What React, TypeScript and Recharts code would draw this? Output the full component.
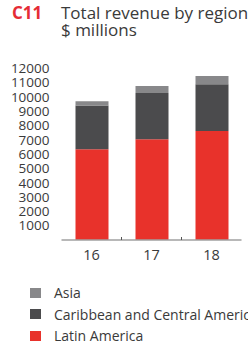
import React from "react";
import { BarChart, Bar, XAxis, YAxis, Legend } from "recharts";

// Total revenue by region, $ millions
const years = ["16", "17", "18"];
const latinAmerica = [6350, 7050, 7620];
const caribbeanCentral = [3050, 3230, 3280];
const asia = [300, 490, 570];
const yTicks = [1000, 2000, 3000, 4000, 5000, 6000, 7000, 8000, 9000, 10000, 11000, 12000];
const legendOrder = ["Asia", "Caribbean and Central America", "Latin America"];

const RED = "#e8322b";
const DARK = "#4b4b4d";
const GREY = "#88888a";
const TEXT = "#3a3a3a";
const FONT = "'Open Sans', sans-serif";

const W = 248;
const H = 341;
const CATEGORY_W = 60;

const data = years.map((year, i) => ({
  year,
  latin: latinAmerica[i],
  caribbean: caribbeanCentral[i],
  asia: asia[i],
}));

/** Label tahun + garis kecil di antara kategori. */
function YearTick(props: any) {
  const { x, y, payload, index } = props;
  const axisY = y - 10;
  return (
    <g>
      <text
        x={x}
        y={y}
        dy="0.71em"
        textAnchor="middle"
        fill={TEXT}
        fontSize={14.5}
        fontFamily={FONT}
      >
        {payload.value}
      </text>
      {index < years.length - 1 && (
        <line
          x1={x + CATEGORY_W / 2}
          x2={x + CATEGORY_W / 2}
          y1={axisY - 3}
          y2={axisY}
          stroke="#555"
          strokeWidth={1}
        />
      )}
    </g>
  );
}

function RegionLegend(props: any) {
  const items = [...(props.payload ?? [])].sort(
    (a: any, b: any) => legendOrder.indexOf(a.value) - legendOrder.indexOf(b.value)
  );
  return (
    <div style={{ fontFamily: FONT, fontSize: 14, color: TEXT }}>
      {items.map((item: any) => (
        <div
          key={item.value}
          style={{ display: "flex", alignItems: "center", height: 21.6, whiteSpace: "nowrap" }}
        >
          <span
            style={{
              display: "inline-block",
              flexShrink: 0,
              width: 10.5,
              height: 10,
              background: item.color,
              marginRight: 13.5,
            }}
          />
          {item.value}
        </div>
      ))}
    </div>
  );
}

export default function App() {
  return (
    <div
      style={{
        position: "absolute",
        left: 0,
        top: 0,
        width: W,
        height: H,
        overflow: "hidden",
        background: "#fff",
        fontFamily: FONT,
      }}
    >
      <div
        style={{
          position: "absolute",
          left: 12,
          top: 4,
          fontSize: 17,
          fontWeight: 700,
          color: "#e52c36",
          lineHeight: "17px",
        }}
      >
        C11
      </div>
      <div
        style={{
          position: "absolute",
          left: 61,
          top: 4,
          fontSize: 17,
          color: TEXT,
          lineHeight: "17px",
          whiteSpace: "nowrap",
        }}
      >
        Total revenue by region
        <br />$ millions
      </div>
      <BarChart
        width={W}
        height={H}
        data={data}
        margin={{ top: 68.4, right: 6.5, left: 0, bottom: 71 }}
        barSize={33}
      >
        <XAxis
          dataKey="year"
          height={30}
          tickLine={false}
          tickSize={0}
          tickMargin={10}
          axisLine={{ stroke: "#a0a0a0", strokeWidth: 1.3 }}
          tick={<YearTick />}
          interval={0}
        />
        <YAxis
          width={61.5}
          domain={[0, 12000]}
          ticks={yTicks}
          interval={0}
          axisLine={false}
          tickLine={false}
          tickSize={0}
          tickMargin={12}
          tick={{ fill: TEXT, fontSize: 13.5, fontFamily: FONT }}
        />
        <Legend
          content={<RegionLegend />}
          layout="vertical"
          align="center"
          verticalAlign="middle"
          wrapperStyle={{ left: 30, top: 282, width: 230 }}
        />
        <Bar dataKey="latin" name="Latin America" stackId="a" fill={RED} isAnimationActive={false} />
        <Bar
          dataKey="caribbean"
          name="Caribbean and Central America"
          stackId="a"
          fill={DARK}
          isAnimationActive={false}
        />
        <Bar dataKey="asia" name="Asia" stackId="a" fill={GREY} isAnimationActive={false} />
      </BarChart>
    </div>
  );
}
